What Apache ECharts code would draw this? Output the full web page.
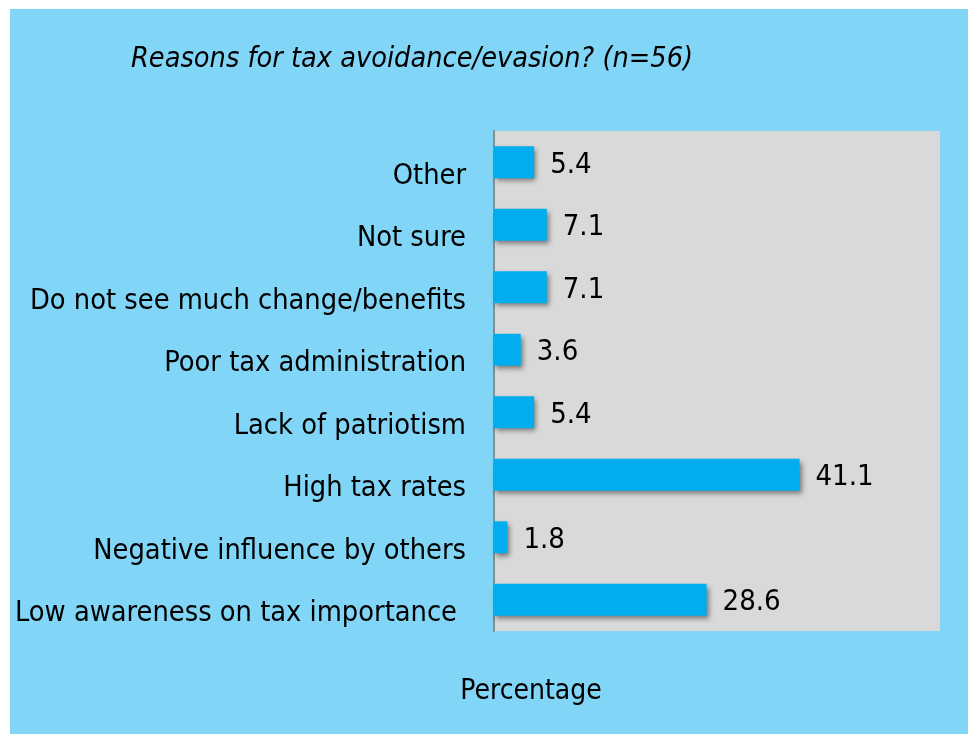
<!DOCTYPE html>
<html><head><meta charset="utf-8">
<script src="https://cdn.jsdelivr.net/npm/echarts@6/dist/echarts.min.js"></script>
<style>html,body{margin:0;padding:0;background:#fff;width:968px;height:734px;overflow:hidden}
#c{position:absolute;left:10px;top:9px;width:958px;height:725px}</style>
</head><body><div id="c"></div>
<script>
const titleText = 'Reasons for tax avoidance/evasion? (n=56)';
const axisTitle = 'Percentage';
const categories = ['Other','Not sure','Do not see much change/benefits','Poor tax administration','Lack of patriotism','High tax rates','Negative influence by others','Low awareness on tax importance'];
const values = [5.4, 7.1, 7.1, 3.6, 5.4, 41.1, 1.8, 28.6];

const FONT = '"DejaVu Sans Condensed", "DejaVu Sans"';
const chart = echarts.init(document.getElementById('c'));
chart.setOption({
  backgroundColor: '#81D6F7',
  animation: false,
  title: {
    text: titleText, left: 116, top: 31,
    textStyle: {fontFamily: FONT, fontStyle: 'italic', fontWeight: 'normal', fontSize: 28.6, color: '#000'}
  },
  grid: {left: 484, top: 122, width: 446, height: 500, show: true, backgroundColor: '#D9D9D9', borderWidth: 0},
  xAxis: {type: 'value', min: 0, max: 60, axisLine: {show: false}, axisTick: {show: false}, axisLabel: {show: false}, splitLine: {show: false}},
  yAxis: {type: 'category', data: categories, inverse: true,
    axisLine: {show: true, lineStyle: {color: '#8c8c8c', width: 2}}, axisTick: {show: false},
    axisLabel: {margin: 28, fontFamily: FONT, fontSize: 28.7, color: '#000', padding: [28, 0, 0, 0],
      formatter: function (v, i) { return i === categories.length - 1 ? '{s|' + v + '}' : v; },
      rich: {s: {fontFamily: FONT, fontSize: 28.7, color: '#000', padding: [0, 9, 0, 0]}}}},
  graphic: [{type: 'text', x: 521, y: 683, style: {text: axisTitle, font: '28px "DejaVu Sans Condensed"', fill: '#000', textAlign: 'center', textVerticalAlign: 'middle'}}],
  series: [{type: 'bar', data: values, barWidth: '51%',
    itemStyle: {color: '#00AEEF', shadowColor: 'rgba(0,0,0,0.45)', shadowBlur: 5, shadowOffsetX: 2, shadowOffsetY: 3},
    label: {show: true, position: 'right', distance: 16, offset: [0, 3], fontFamily: FONT, fontSize: 29, color: '#000'}}]
});
</script></body></html>
